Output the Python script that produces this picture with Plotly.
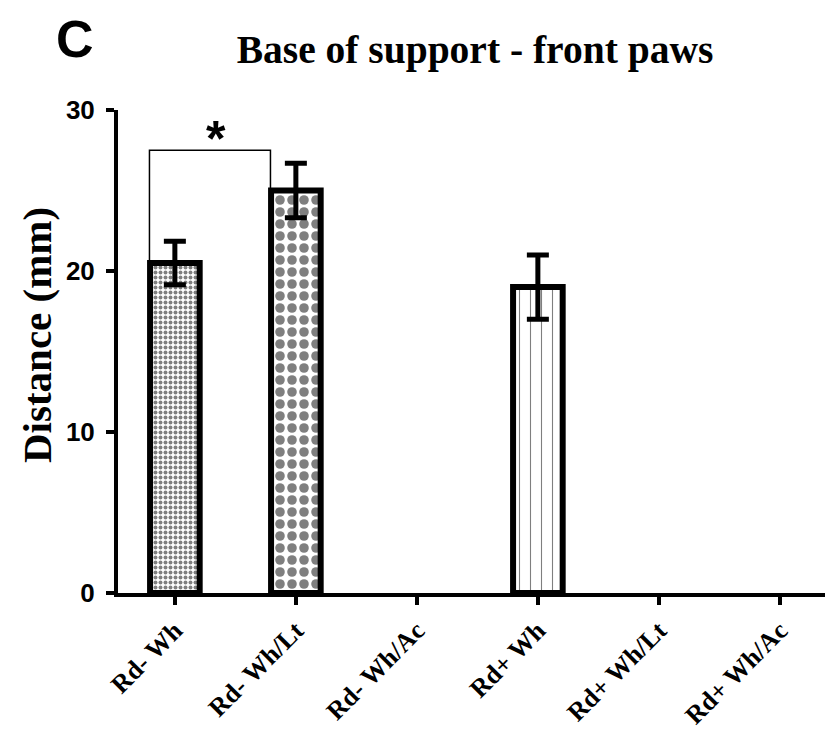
import plotly.graph_objects as go

# ---- data ----
categories = ["Rd- Wh", "Rd- Wh/Lt", "Rd- Wh/Ac", "Rd+ Wh", "Rd+ Wh/Lt", "Rd+ Wh/Ac"]
means = [20.5, 25.0, None, 19.0, None, None]
sem = [1.35, 1.7, None, 2.0, None, None]
y_ticks = [0, 10, 20, 30]
sig_label = "*"
sig_level = 27.5

# ---- styles ----
patterns = [".", ".", "", "|", "", ""]
pattern_sizes = [5, 12, 8, 11, 8, 8]
pattern_solid = [0.5, 0.5, 0.3, 0.1, 0.3, 0.3]

serif = "Liberation Serif, Times New Roman, serif"
sans = "Liberation Sans, Arial, sans-serif"

xpos = list(range(len(categories)))

L, T, B, W, H = 110, 102, 148, 833, 733
pw, ph = W - L, H - T - B

def px_to_paper(xw, yw):
    # window pixel (page has 8px body margin) -> paper coords
    xf, yf = xw - 8, yw - 8
    return (xf - L) / pw, (H - B - yf) / ph

fig = go.Figure()
fig.add_trace(go.Bar(
    x=xpos, y=means, width=0.41,
    marker=dict(
        color="white",
        line=dict(color="black", width=6),
        pattern=dict(shape=patterns, size=pattern_sizes, solidity=pattern_solid,
                     fgcolor="black", bgcolor="white", fillmode="overlay"),
    ),
    error_y=dict(type="data", array=sem, visible=True, color="black",
                 thickness=5, width=11),
    showlegend=False,
))

# significance bracket between first two groups
fig.add_trace(go.Scatter(
    x=[xpos[0] - 0.21, xpos[0] - 0.21, xpos[1] - 0.21, xpos[1] - 0.21],
    y=[means[0], sig_level, sig_level, means[1]],
    mode="lines", line=dict(color="black", width=1.5),
    showlegend=False, hoverinfo="skip",
))
fig.add_annotation(x=0.34, y=sig_level + 0.72, text="<b>%s</b>" % sig_label, showarrow=False,
                   font=dict(family=sans, size=50, color="black"),
                   xanchor="center", yanchor="middle")

# panel letter (box top at the page top)
cx, cy = px_to_paper(75, 8)
fig.add_annotation(x=cx, y=cy, xref="paper", yref="paper", text="<b>C</b>",
                   showarrow=False, font=dict(family=sans, size=52, color="black"),
                   xanchor="center", yanchor="top")

# y axis title
tx, ty = px_to_paper(37, 335)
fig.add_annotation(x=tx, y=ty, xref="paper", yref="paper",
                   text="<b>Distance (mm)</b>", textangle=-90, showarrow=False,
                   font=dict(family=serif, size=41, color="black"),
                   xanchor="center", yanchor="middle")

fig.update_layout(
    width=W, height=H,
    paper_bgcolor="white", plot_bgcolor="white",
    margin=dict(l=L, r=0, t=T, b=B, autoexpand=False),
    title=dict(text="<b>Base of support - front paws</b>", x=0.5606, y=0.944,
               xanchor="center", yanchor="middle", xref="container", yref="container",
               font=dict(family=serif, size=39.5, color="black")),
    xaxis=dict(
        range=[-0.47, -0.47 + pw / 121.0], tickmode="array", tickvals=xpos,
        ticktext=["<b>%s</b>" % c for c in categories],
        tickangle=-45, showgrid=False, zeroline=False, automargin=False,
        showline=True, linecolor="black", linewidth=4,
        ticks="outside", ticklen=8, tickwidth=4, tickcolor="black",
        tickfont=dict(family=serif, size=26, color="black"),
    ),
    yaxis=dict(
        range=[0, 30], tickmode="array", tickvals=y_ticks,
        ticktext=["<b>%d</b>" % v for v in y_ticks],
        showgrid=False, zeroline=False, automargin=False,
        showline=True, linecolor="black", linewidth=4,
        ticks="outside", ticklen=8, tickwidth=4, tickcolor="black",
        ticklabelstandoff=6,
        tickfont=dict(family=sans, size=26, color="black"),
    ),
)

fig.write_html("out.html")
